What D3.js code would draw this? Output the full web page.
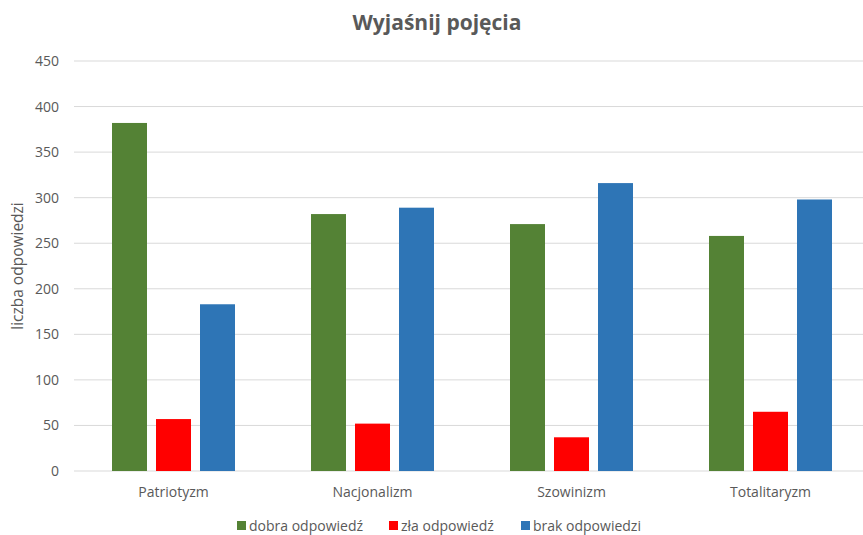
<!DOCTYPE html>
<html>
<head>
<meta charset="utf-8">
<script src="https://cdn.jsdelivr.net/npm/d3@7"></script>
<style>
  body { margin: 0; background: #fff; }
  svg { display: block; font-family: "Open Sans", "Liberation Sans", sans-serif; }
</style>
</head>
<body>
<div id="chart"></div>
<script>
// data
const categories = ['Patriotyzm', 'Nacjonalizm', 'Szowinizm', 'Totalitaryzm']
const seriesNames = ['dobra odpowiedź', 'zła odpowiedź', 'brak odpowiedzi']
const dobra = [382, 282, 271, 258]
const zla = [57, 52, 37, 65]
const brak = [183, 289, 316, 298]
const yTicks = [0, 50, 100, 150, 200, 250, 300, 350, 400, 450]
const colors = ['#548235', '#ff0000', '#2e75b6']

const width = 863
const height = 535
const textColor = '#595959'

const svg = d3.select('#chart')
  .append('svg')
  .attr('width', width)
  .attr('height', height)

// plot area (right edge runs past the window, like the original)
const plot = { left: 74, right: 870, top: 61, bottom: 471 }

const x0 = d3.scaleBand()
  .domain(categories)
  .range([plot.left, plot.right])

const groupWidth = 123
const x1 = d3.scaleBand()
  .domain(seriesNames)
  .range([0, groupWidth])
  .paddingInner(9 / 44)

const y = d3.scaleLinear()
  .domain([0, 450])
  .range([plot.bottom, plot.top])

// gridlines
svg.append('g')
  .selectAll('line')
  .data(yTicks)
  .join('line')
  .attr('x1', plot.left)
  .attr('x2', plot.right)
  .attr('y1', d => y(d))
  .attr('y2', d => y(d))
  .attr('stroke', '#d9d9d9')
  .attr('stroke-width', 1)

// y axis labels
const yAxis = svg.append('g')
  .attr('transform', `translate(${plot.left - 15},0)`)
  .call(d3.axisLeft(y).tickValues(yTicks).tickSize(0).tickPadding(0))
yAxis.select('.domain').remove()
yAxis.selectAll('text')
  .attr('fill', textColor)
  .style('font-size', '14px')
  .style('font-family', '"Open Sans", sans-serif')

// y axis title
svg.append('text')
  .attr('transform', `translate(23,${(plot.top + plot.bottom) / 2}) rotate(-90)`)
  .attr('text-anchor', 'middle')
  .attr('fill', textColor)
  .style('font-size', '15.5px')
  .text('liczba odpowiedzi')

// bars
const rows = categories.map((c, i) => ({
  category: c,
  values: [dobra[i], zla[i], brak[i]]
}))

const groups = svg.append('g')
  .selectAll('g')
  .data(rows)
  .join('g')
  .attr('transform', d => `translate(${x0(d.category) + (x0.bandwidth() - groupWidth) / 2},0)`)

groups.selectAll('rect')
  .data(d => d.values.map((v, j) => ({ name: seriesNames[j], value: v, color: colors[j] })))
  .join('rect')
  .attr('x', d => x1(d.name))
  .attr('y', d => y(d.value))
  .attr('width', x1.bandwidth())
  .attr('height', d => y(0) - y(d.value))
  .attr('fill', d => d.color)

// x axis labels
const xAxis = svg.append('g')
  .attr('transform', `translate(0,${plot.bottom + 10})`)
  .call(d3.axisBottom(x0).tickSize(0).tickPadding(6))
xAxis.select('.domain').remove()
xAxis.selectAll('text')
  .attr('fill', textColor)
  .style('font-size', '14px')
  .style('font-family', '"Open Sans", sans-serif')

// title
svg.append('text')
  .attr('x', 437)
  .attr('y', 30)
  .attr('text-anchor', 'middle')
  .attr('fill', textColor)
  .style('font-size', '21px')
  .style('font-weight', 'bold')
  .text('Wyjaśnij pojęcia')

// legend
const legendX = [237, 389, 521]
const legend = svg.append('g')
  .selectAll('g')
  .data(seriesNames)
  .join('g')
  .attr('transform', (d, i) => `translate(${legendX[i]},521)`)

legend.append('rect')
  .attr('width', 9)
  .attr('height', 9)
  .attr('fill', (d, i) => colors[i])

legend.append('text')
  .attr('x', 12)
  .attr('y', 9.5)
  .attr('fill', textColor)
  .style('font-size', '14px')
  .text(d => d)
</script>
</body>
</html>
